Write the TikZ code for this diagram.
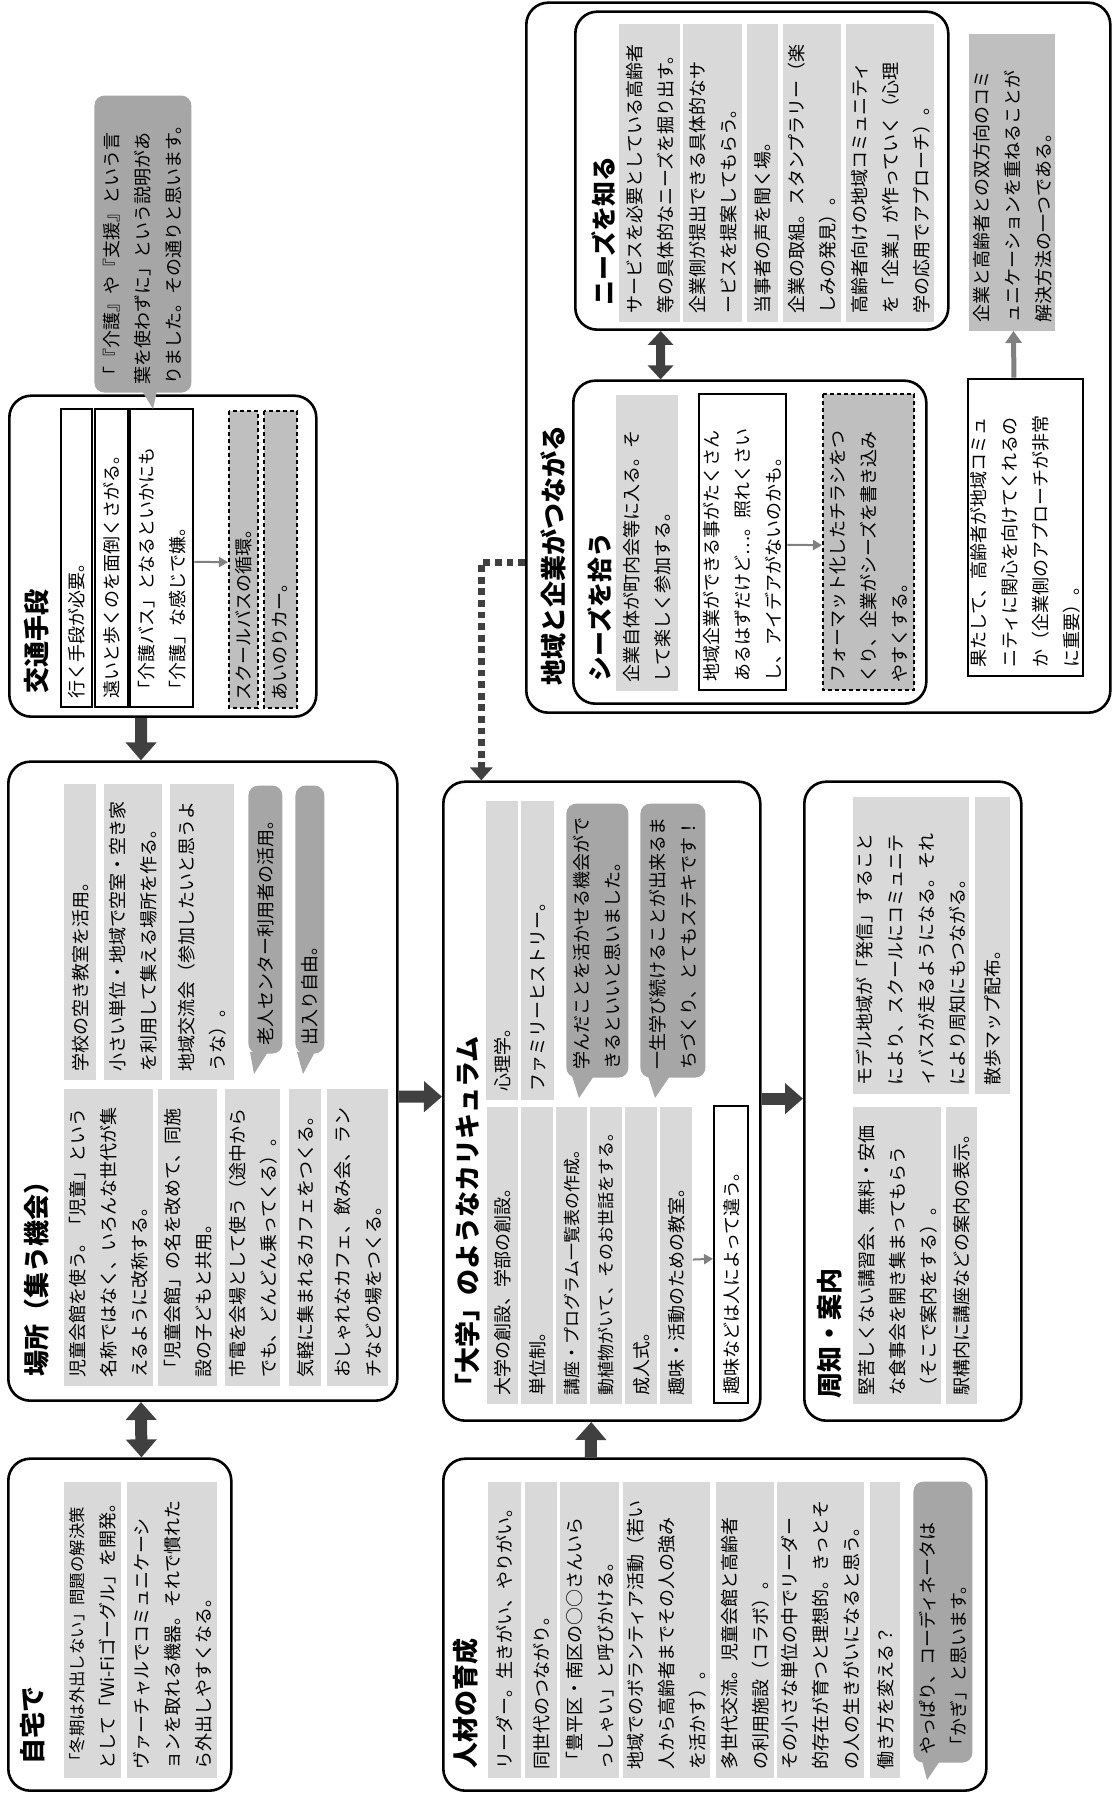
\documentclass[tikz,border=0pt]{standalone}
\usepackage{fontspec}
\setmainfont{Noto Sans CJK JP}
\usetikzlibrary{arrows.meta,calc}
\definecolor{gLight}{HTML}{D9D9D9}
\definecolor{gMid}{HTML}{BFBFBF}
\definecolor{gDark}{HTML}{A6A6A6}
\definecolor{aDark}{HTML}{404040}
\definecolor{aGrey}{HTML}{808080}
\hyphenpenalty=10000 \exhyphenpenalty=10000
\tikzset{
  base/.style={font=\fontsize{9}{15.5}\selectfont, inner ysep=0pt, align=left},
  iteml/.style={base, fill=gLight},
  itemw/.style={base, fill=white, draw=black, line width=1.2pt},
  itemm/.style={base, fill=gMid, draw=black, line width=0.8pt, dash pattern=on 2pt off 1.5pt},
  itemg/.style={base, fill=gMid},
  bubble/.style={base, fill=gDark, rounded corners=5pt},
  frame/.style={draw=black, line width=1.3pt, rounded corners=11pt, fill=white, inner ysep=0pt},
  ttl/.style={font=\fontsize{13}{15}\selectfont\bfseries, inner sep=0pt, anchor=west},
  stl/.style={font=\fontsize{12.5}{15}\selectfont\bfseries, inner sep=0pt, anchor=west},
  bigarrow/.style={draw=aDark, line width=6pt, -{Triangle[width=15pt,length=9pt]}},
  bigdbl/.style={draw=aDark, line width=6pt, {Triangle[width=15pt,length=9pt]}-{Triangle[width=15pt,length=9pt]}},
  meddbl/.style={draw=aDark, line width=4.5pt, {Triangle[width=12.5pt,length=7pt]}-{Triangle[width=12.5pt,length=7pt]}},
  dotarrow/.style={draw=aDark, line width=3.6pt, dash pattern=on 3.4pt off 2.4pt, -{Triangle[width=11pt,length=6.5pt]}},
  thinarrow/.style={draw=aGrey, line width=1pt, -{Triangle[width=5pt,length=4.5pt]}},
  grarrow/.style={draw=aGrey, line width=2.5pt, -{Triangle[width=8pt,length=6pt]}},
}
% name, style, X1, Y1, X2, Y2 (landscape px), text
\newcommand\cardbox[7]{%
  \pgfmathsetmacro\cbw{(#5-#3)*0.5-8}%
  \pgfmathsetmacro\cbh{(#6-#4)*0.5}%
  \node[#2, inner xsep=4pt, anchor=north west, text width=\cbw pt, minimum height=\cbh pt] (#1) at (#3,-#4) {#7};%
}
\begin{document}
\begin{tikzpicture}[x=0.5pt,y=0.5pt]
\useasboundingbox (0,0) rectangle (1112,1798);
\fill[white] (0,0) rectangle (1112,1798);
\begin{scope}[rotate=90, transform shape]
% ---------- frames ----------
\cardbox{jitaku}{frame}{6}{7}{338}{230}{}
\cardbox{basho}{frame}{396}{7}{1035}{396}{}
\cardbox{kotsu}{frame}{1080}{8}{1401}{315}{}
\cardbox{chiiki}{frame}{1084}{525}{1794}{1109}{}
\cardbox{jinzai}{frame}{6}{442}{338}{985}{}
\cardbox{daigaku}{frame}{376}{442}{1015}{759}{}
\cardbox{shuchi}{frame}{376}{803}{1015}{1020}{}
\cardbox{needs}{frame}{1467}{574}{1785}{947}{}
\cardbox{seeds}{frame}{1093}{572}{1416}{925}{}
% ---------- titles ----------
\node[ttl] (tjitaku) at (33,-33) {自宅で};
\node[ttl] (tbasho) at (421,-37) {場所（集う機会）};
\node[ttl] (tkotsu) at (1104,-37) {交通手段};
\node[ttl] (tchiiki) at (1112,-553) {地域と企業がつながる};
\node[stl] (tneeds) at (1492,-604) {ニーズを知る};
\node[stl] (tseeds) at (1116,-600) {シーズを拾う};
\node[ttl] (tjinzai) at (29,-466) {人材の育成};
\node[ttl] (tdaigaku) at (398,-468) {「大学」のようなカリキュラム};
\node[ttl] (tshuchi) at (399,-830) {周知・案内};
% ---------- 自宅で ----------
\cardbox{h1}{iteml}{20}{64}{316}{121}{{\fontsize{8.2}{15.5}\selectfont 「冬期は外出しない」問題の解決策}\\として「Wi-Fiゴーグル」を開発。}
\cardbox{h2}{iteml}{20}{127}{316}{217}{ヴァーチャルでコミュニケーシ\\ョンを取れる機器。それで慣れた\\ら外出しやすくなる。}
% ---------- 場所 ----------
\cardbox{p1}{iteml}{718}{64}{1014}{96}{学校の空き教室を活用。}
\cardbox{p2}{iteml}{718}{104}{1014}{162}{小さい単位・地域で空室・空き家\\を利用して集える場所を作る。}
\cardbox{p3}{iteml}{718}{170}{1014}{234}{地域交流会（参加したいと思うよ\\うな）。}
\fill[gDark] (746,-250) -- (724,-254) -- (746,-268) -- cycle;
\cardbox{pb1}{bubble}{744}{248}{1012}{282}{老人センター利用者の活用。}
\fill[gDark] (746,-297) -- (724,-303) -- (746,-315) -- cycle;
\cardbox{pb2}{bubble}{744}{295}{1012}{324}{出入り自由。}
\cardbox{p4}{iteml}{412}{64}{709}{153}{児童会館を使う。「児童」という\\名称ではなく、いろんな世代が集\\えるように改称する。}
\cardbox{p5}{iteml}{412}{158}{709}{217}{「児童会館」の名を改めて、同施\\設の子どもと共用。}
\cardbox{p6}{iteml}{412}{225}{709}{280}{市電を会場として使う（途中から\\でも、どんどん乗ってくる）。}
\cardbox{p7}{iteml}{412}{289}{709}{321}{気軽に集まれるカフェをつくる。}
\cardbox{p8}{iteml}{412}{327}{709}{388}{おしゃれなカフェ、飲み会、ラン\\チなどの場をつくる。}
% ---------- 交通手段 ----------
\cardbox{t1}{itemw}{1090}{60}{1388}{91}{行く手段が必要。}
\cardbox{t2}{itemw}{1090}{94}{1388}{127}{遠いと歩くのを面倒くさがる。}
\cardbox{t3}{itemw}{1090}{129}{1388}{192}{「介護バス」となるといかにも\\「介護」な感じで嫌。}
\cardbox{t4}{itemm}{1089}{228}{1386}{257}{スクールバスの循環。}
\cardbox{t5}{itemm}{1089}{263}{1386}{296}{あいのりカー。}
\fill[gDark] (1407,-142) -- (1389,-153) -- (1407,-157) -- cycle;
\cardbox{b0}{bubble}{1405}{94}{1702}{191}{「『介護』や『支援』という言\\葉を使わずに」という説明があ\\りました。その通りと思います。}
% ---------- 人材の育成 ----------
\cardbox{j1}{iteml}{20}{488}{316}{521}{リーダー。生きがい、やりがい。}
\cardbox{j2}{iteml}{20}{525}{316}{557}{同世代のつながり。}
\cardbox{j3}{iteml}{20}{560}{316}{619}{「豊平区・南区の○○さんいら\\っしゃい」と呼びかける。}
\cardbox{j4}{iteml}{20}{623}{316}{710}{地域でのボランティア活動（若い\\人から高齢者までその人の強み\\を活かす）。}
\cardbox{j5}{iteml}{20}{716}{316}{774}{多世代交流。児童会館と高齢者\\の利用施設（コラボ）。}
\cardbox{j6}{iteml}{20}{777}{316}{864}{その小さな単位の中でリーダー\\的存在が育つと理想的。きっとそ\\の人の生きがいになると思う。}
\cardbox{j7}{iteml}{20}{870}{316}{900}{働き方を変える？}
\fill[gDark] (37,-922) -- (18,-927) -- (37,-940) -- cycle;
\cardbox{jb}{bubble}{35}{913}{316}{972}{やっぱり、コーディネータは\\「かぎ」と思います。}
% ---------- 大学 ----------
\cardbox{u1}{iteml}{698}{486}{997}{518}{心理学。}
\cardbox{u2}{iteml}{698}{521}{997}{554}{ファミリーヒストリー。}
\fill[gDark] (722,-572) -- (700,-579) -- (722,-594) -- cycle;
\cardbox{ub1}{bubble}{720}{566}{994}{628}{学んだことを活かせる機会がで\\きるといいと思いました。}
\fill[gDark] (722,-648) -- (700,-655) -- (722,-670) -- cycle;
\cardbox{ub2}{bubble}{720}{640}{994}{705}{一生学び続けることが出来るま\\ちづくり、とてもステキです！}
\cardbox{u3}{iteml}{394}{487}{691}{518}{大学の創設、学部の創設。}
\cardbox{u4}{iteml}{394}{521}{691}{553}{単位制。}
\cardbox{u5}{iteml}{394}{556}{691}{587}{{\fontsize{8.5}{15.5}\selectfont 講座・プログラム一覧表の作成。}}
\cardbox{u6}{iteml}{394}{590}{691}{622}{{\fontsize{8.5}{15.5}\selectfont 動植物がいて、そのお世話をする。}}
\cardbox{u7}{iteml}{394}{625}{691}{657}{成人式。}
\cardbox{u8}{iteml}{394}{660}{691}{692}{趣味・活動のための教室。}
\cardbox{u9}{itemw}{394}{713}{691}{747}{趣味などは人によって違う。}
% ---------- 周知・案内 ----------
\cardbox{s1}{iteml}{704}{853}{1001}{969}{モデル地域が「発信」すること\\により、スクールにコミュニテ\\ィバスが走るようになる。それ\\により周知にもつながる。}
\cardbox{s2}{iteml}{704}{975}{1001}{1010}{散歩マップ配布。}
\cardbox{s3}{iteml}{394}{853}{691}{941}{堅苦しくない講習会、無料・安価\\な食事会を開き集まってもらう\\（そこで案内をする）。}
\cardbox{s4}{iteml}{394}{946}{691}{977}{駅構内に講座などの案内の表示。}
% ---------- 地域と企業 ----------
\cardbox{n1}{iteml}{1476}{619}{1774}{680}{サービスを必要としている高齢者\\等の具体的なニーズを掘り出す。}
\cardbox{n2}{iteml}{1476}{683}{1774}{742}{企業側が提出できる具体的なサ\\ービスを提案してもらう。}
\cardbox{n3}{iteml}{1476}{747}{1774}{778}{当事者の声を聞く場。}
\cardbox{n4}{iteml}{1476}{783}{1774}{841}{企業の取組。スタンプラリー（楽\\しみの発見）。}
\cardbox{n5}{iteml}{1476}{846}{1774}{934}{高齢者向けの地域コミュニティ\\を「企業」が作っていく（心理\\学の応用でアプローチ）。}
\cardbox{k1}{iteml}{1107}{616}{1403}{678}{企業自体が町内会等に入る。そ\\して楽しく参加する。}
\cardbox{k2}{itemw}{1107}{698}{1403}{785}{地域企業ができる事がたくさん\\あるはずだけど…。照れくさい\\し、アイデアがないのかも。}
\cardbox{k3}{itemm}{1107}{822}{1403}{913}{フォーマット化したチラシをつ\\くり、企業がシーズを書き込み\\やすくする。}
\cardbox{w1}{itemw}{1121}{967}{1418}{1082}{果たして、高齢者が地域コミュ\\ニティに関心を向けてくれるの\\か（企業側のアプローチが非常\\に重要）。}
\cardbox{g1}{itemg}{1467}{969}{1764}{1055}{企業と高齢者との双方向のコミ\\ュニケーションを重ねることが\\解決方法の一つである。}
% ---------- connectors ----------
\draw[bigarrow] ($(kotsu.north west)!0.430!(kotsu.south west)$) -- ($(basho.north east)!0.342!(basho.south east)$);
\draw[bigdbl] ($(jitaku.north east)!0.596!(jitaku.south east)$) -- ($(basho.north west)!0.342!(basho.south west)$);
\draw[bigarrow] ($(basho.south west)!0.476!(basho.south east)$) -- ($(daigaku.north west)!0.507!(daigaku.north east)$);
\draw[bigarrow] ($(jinzai.north east)!0.2726!(jinzai.south east)$) -- ($(daigaku.north west)!0.467!(daigaku.south west)$);
\draw[bigarrow] ($(daigaku.south west)!0.504!(daigaku.south east)$) -- ($(shuchi.north west)!0.504!(shuchi.north east)$);
\draw[dotarrow] ($(chiiki.north west)!0.2127!(chiiki.north east)$) |- ($(daigaku.north east)!0.123!(daigaku.south east)$);
\draw[meddbl] ($(seeds.north east)!0.249!(seeds.south east)$) -- ($(needs.north west)!0.2306!(needs.south west)$);
\draw[grarrow] ($(w1.north east)!0.4!(w1.south east)$) -- ($(g1.north west)!0.512!(g1.south west)$);
\draw[thinarrow] ($(t3.south west)!0.4866!(t3.south east)$) -- ($(t4.north west)!0.4916!(t4.north east)$);
\draw[thinarrow] ($(u8.south west)!0.485!(u8.south east)$) -- ($(u9.north west)!0.485!(u9.north east)$);
\draw[thinarrow] ($(k2.south west)!0.49!(k2.south east)$) -- ($(k3.north west)!0.49!(k3.north east)$);
\end{scope}
\end{tikzpicture}
\end{document}
